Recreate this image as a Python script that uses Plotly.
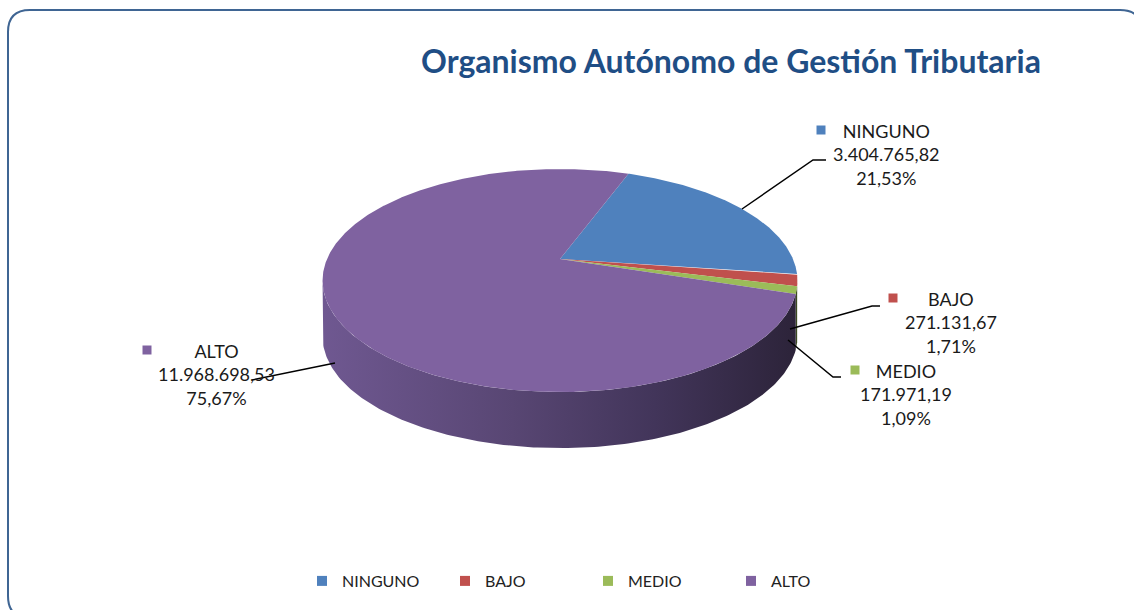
import numpy as np
import plotly.graph_objects as go

# ---------------- data ----------------
categories = ["NINGUNO", "BAJO", "MEDIO", "ALTO"]
values = [3404765.82, 271131.67, 171971.19, 11968698.53]
title_text = "Organismo Autónomo de Gestión Tributaria"

# ---------------- styles ----------------
top_colors = ["#4F81BD", "#C0504D", "#9BBB59", "#7F62A0"]
side_scales = [
    [[0, "#2f4a70"], [1, "#1e3250"]],
    [[0, "#6e2e2c"], [1, "#4a1e1d"]],
    [[0, "#5a6e34"], [1, "#3c4a22"]],
    [[0, "#6f5891"], [0.4, "#584673"], [0.7, "#42355a"], [1, "#2c2339"]],
]

W, Hpx = 1134, 610
FONT = "Lato"

# 3D (perspective) pie geometry
CX, CY = 560.0, 259.0            # apex (projected centre of the disc)
RA, RB, K = 233.0, 107.4, 0.193  # horizontal / vertical radii and perspective factor
DEPTH = 56.0                     # thickness of the pie
T0 = 20.3                        # first slice angle (degrees, clockwise from 12 o'clock)


def fmt_es(v):
    s = f"{v:,.2f}"
    return s.replace(",", "X").replace(".", ",").replace("X", ".")


def fmt_pct(p):
    return f"{p * 100:.2f}".replace(".", ",") + "%"


def proj(t_deg, dy=0.0):
    t = np.radians(t_deg)
    d = 1 + K * np.cos(t)
    return CX + RA * np.sin(t) / d, CY - RB * np.cos(t) / d + dy


total = sum(values)
fracs = [v / total for v in values]
starts, ends = [], []
acc = 0.0
for f in fracs:
    starts.append(T0 + 360 * acc)
    acc += f
    ends.append(T0 + 360 * acc)

TL = np.degrees(np.arccos(-K))
TR = 360 - TL

fig = go.Figure()

# side walls (front, visible part)
for i, cat in enumerate(categories):
    s, e = starts[i], ends[i]
    for off in (0, 360):
        a, b = max(s, TL + off), min(e, TR + off)
        if b <= a:
            continue
        tt = np.linspace(a, b, 200)
        xt, yt = proj(tt)
        xb, yb = proj(tt[::-1], DEPTH)
        xs = np.concatenate([xt, xb, xt[:1]])
        ys = np.concatenate([yt, yb, yt[:1]])
        fig.add_trace(go.Scatter(
            x=xs, y=ys, mode="lines", fill="toself",
            line=dict(width=0, color="rgba(0,0,0,0)"),
            fillgradient=dict(type="horizontal", colorscale=side_scales[i],
                              start=CX - RA * 1.02, stop=CX + RA * 1.02),
            hoverinfo="skip", showlegend=False))

# top faces
for i, cat in enumerate(categories):
    tt = np.linspace(starts[i], ends[i], max(3, int((ends[i] - starts[i]) * 3)))
    xa, ya = proj(tt)
    xs = np.concatenate([[CX], xa, [CX]])
    ys = np.concatenate([[CY], ya, [CY]])
    fig.add_trace(go.Scatter(
        x=xs, y=ys, mode="lines", fill="toself", fillcolor=top_colors[i],
        line=dict(width=0, color=top_colors[i]),
        hoverinfo="skip", showlegend=False))

# legend entries
for i, cat in enumerate(categories):
    fig.add_trace(go.Scatter(
        x=[None], y=[None], mode="markers", name=cat,
        marker=dict(symbol="square", size=10, color=top_colors[i]),
        showlegend=True))

# data labels
label_pos = [(886, 154), (951, 322), (906, 394), (216, 374)]
key_pos = [(821, 130), (893, 298), (855, 370), (147, 350)]
leaders = [
    "M 742 209 L 813 160 L 826 160",
    "M 790 329 L 872 306 L 880 306",
    "M 788 340 L 833 377 L 841 377",
    "M 335 363 L 252 380",
]
shapes = []
annotations = []
for i, cat in enumerate(categories):
    lx, ly = label_pos[i]
    annotations.append(dict(
        x=lx, y=ly, xref="x", yref="y", showarrow=False,
        text=f"{cat}<br>{fmt_es(values[i])}<br>{fmt_pct(fracs[i])}",
        align="center", xanchor="center", yanchor="middle",
        font=dict(family=FONT, size=18, color="#1a1a1a")))
    kx, ky = key_pos[i]
    shapes.append(dict(type="rect", xref="x", yref="y",
                       x0=kx - 4.5, x1=kx + 4.5, y0=ky - 4.5, y1=ky + 4.5,
                       fillcolor=top_colors[i], line=dict(width=0)))
    shapes.append(dict(type="path", xref="x", yref="y", path=leaders[i],
                       line=dict(color="#000000", width=1.5)))

# rounded border of the chart area
r = 22
x0b, y0b, x1b, y1b = 8, 10, 1142, 618
border = (f"M {x0b + r} {y0b} L {x1b - r} {y0b} Q {x1b} {y0b} {x1b} {y0b + r} "
          f"L {x1b} {y1b - r} Q {x1b} {y1b} {x1b - r} {y1b} L {x0b + r} {y1b} "
          f"Q {x0b} {y1b} {x0b} {y1b - r} L {x0b} {y0b + r} Q {x0b} {y0b} {x0b + r} {y0b} Z")
shapes.append(dict(type="path", xref="x", yref="y", path=border,
                   line=dict(color="#3f6593", width=2), layer="below"))

fig.update_layout(
    width=W, height=Hpx,
    margin=dict(l=0, r=0, t=0, b=0),
    paper_bgcolor="white", plot_bgcolor="white",
    xaxis=dict(range=[0, W], visible=False, fixedrange=True),
    yaxis=dict(range=[Hpx, 0], visible=False, fixedrange=True),
    title=dict(text=f"<b>{title_text}</b>", x=731 / W, xanchor="center",
               y=1 - 62 / Hpx, yanchor="middle",
               font=dict(family=FONT, size=32, color="#1f4e85")),
    showlegend=True,
    legend=dict(orientation="h", x=302 / W, xanchor="left",
                y=1 - 581 / Hpx, yanchor="middle",
                entrywidth=98, entrywidthmode="pixels",
                font=dict(family=FONT, size=16, color="#222222"),
                bgcolor="rgba(0,0,0,0)", traceorder="normal"),
    shapes=shapes,
    annotations=annotations,
)

fig.write_html("out.html", config={"displayModeBar": False},
               post_script="document.body.style.margin='0px';document.body.style.overflow='hidden';")
